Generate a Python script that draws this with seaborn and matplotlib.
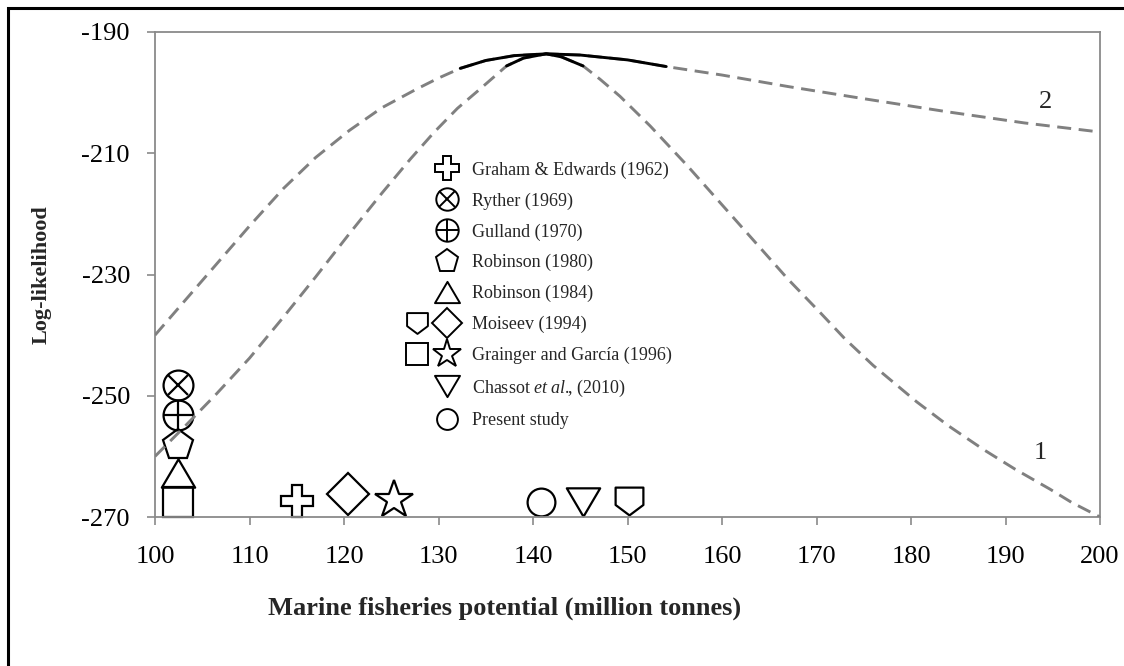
import matplotlib
matplotlib.use("Agg")
import matplotlib.pyplot as plt
from matplotlib.lines import Line2D
from matplotlib.legend_handler import HandlerTuple
from matplotlib.patches import Rectangle
from matplotlib.path import Path
import seaborn as sns

# profile 1 (narrow curve)
x1 = [100, 103, 106.5, 110, 113.5, 117, 120.5, 124, 127, 129.5, 132, 134.4, 137.2,
      139, 141.4, 143, 145.3, 147.1, 149.2, 152.4, 156.3, 160, 163.3, 167, 170.4, 173,
      176, 180.6, 184, 187.7, 191, 194.7, 197, 200]
ll1 = [-260, -255.3, -249.7, -243.8, -237.2, -230.4, -223.4, -216.6, -211.0, -206.6, -202.6,
       -199.4, -195.6, -194.3, -193.6, -194.1, -195.6, -197.8, -200.6, -205.5, -212, -218.5,
       -224.3, -230.8, -236.3, -240.6, -245.0, -251.0, -255.0, -258.9, -262.1, -265.4, -267.6, -270]

# profile 2 (wide curve)
x2 = [100, 103, 106.5, 110, 113.6, 117, 120.6, 124, 127.7, 130, 132.3, 135, 138, 141.4,
      145, 150, 154.1, 160, 167, 175, 184, 192, 200]
ll2 = [-240, -234.6, -228.3, -222.0, -215.8, -210.7, -206.2, -202.5, -199.4, -197.6, -196.0,
       -194.7, -193.9, -193.6, -193.8, -194.6, -195.7, -197.1, -199.0, -201.0, -203.2, -205.0, -206.5]

# confidence ranges drawn solid
ci1 = (137.2, 145.3)
ci2 = (132.3, 154.1)

studies = ["Graham & Edwards (1962)", "Ryther (1969)", "Gulland (1970)", "Robinson (1980)",
           "Robinson (1984)", "Moiseev (1994)", "Grainger and García (1996)",
           r"Chassot $\mathit{et\ al.}\!\!\mathrm{,}$ (2010)", "Present study"]

# estimates plotted on the chart (one study may have two symbols)
point_study = [0, 1, 2, 3, 4, 5, 5, 6, 6, 7, 8]
point_sym = ["cross", "otimes", "oplus", "pentagon", "triangle", "shield", "diamond",
             "square", "star", "tri_down", "circle"]
point_x = [115.0, 102.4, 102.4, 102.4, 102.4, 150.2, 120.4, 102.4, 125.3, 145.3, 140.8]
point_y = [-267.4, -248.2, -253.2, -258.1, -262.7, -267.4, -266.2, -267.5, -267.2, -267.6, -267.6]


def poly(pts):
    return Path(pts + [pts[0]], [Path.MOVETO] + [Path.LINETO] * (len(pts) - 1) + [Path.CLOSEPOLY])


shield = poly([(-1, 1), (1, 1), (1, -0.25), (0, -1), (-1, -0.25)])
tri_up = poly([(0, 0.85), (1, -0.85), (-1, -0.85)])
tri_dn = poly([(0, -0.85), (-1, 0.85), (1, 0.85)])

# symbol -> list of (marker, size) layers
SYM = {
    "cross": [("P", 23)],
    "otimes": [("o", 21.5), ("x", 14.5)],
    "oplus": [("o", 21.5), ("+", 21.5)],
    "pentagon": [("p", 23)],
    "triangle": [(tri_up, 24)],
    "shield": [(shield, 20)],
    "diamond": [("D", 21)],
    "square": [("s", 21)],
    "star": [("*", 29)],
    "tri_down": [(tri_dn, 24)],
    "circle": [("o", 20)],
}

sns.set_theme(style="white")
plt.rcParams["font.family"] = ["Liberation Serif", "DejaVu Serif"]
plt.rcParams["mathtext.fontset"] = "custom"
plt.rcParams["mathtext.it"] = "Liberation Serif:italic"
plt.rcParams["mathtext.rm"] = "Liberation Serif"
plt.rcParams["axes.unicode_minus"] = False

fig = plt.figure(figsize=(11.24, 6.66), dpi=100)
ax = fig.add_axes([155 / 1124, 1 - 517 / 666, 945 / 1124, 485 / 666])

grey = "#808080"
for xs, ys, ci in [(x1, ll1, ci1), (x2, ll2, ci2)]:
    sns.lineplot(x=xs, y=ys, ax=ax, color=grey, linewidth=2.1, linestyle=(0, (4.8, 2.6)),
                 estimator=None, sort=False, legend=False, zorder=3)
    cx = [a for a in xs if ci[0] <= a <= ci[1]]
    cy = [b for a, b in zip(xs, ys) if ci[0] <= a <= ci[1]]
    sns.lineplot(x=cx, y=cy, ax=ax, color="black", linewidth=2.1, estimator=None,
                 sort=False, legend=False, zorder=4)

for px, py, s in zip(point_x, point_y, point_sym):
    for m, ms in SYM[s]:
        ax.plot([px], [py], marker=m, ms=ms, mfc="none", mec="black", mew=1.6,
                ls="none", clip_on=False, zorder=2)

ax.text(194.2, -201.5, "2", fontsize=19, ha="center", va="center")
ax.text(193.7, -259.4, "1", fontsize=19, ha="center", va="center")

ax.set_xlim(100, 200)
ax.set_ylim(-270, -190)
ax.set_xticks(range(100, 201, 10))
ax.set_yticks(range(-270, -189, 20))
for sp in ax.spines.values():
    sp.set_color("#8a8a8a")
    sp.set_linewidth(1.3)
ax.tick_params(axis="both", direction="out", length=6, width=1.2, color="#8a8a8a",
               labelsize=19, labelcolor="black")
ax.tick_params(axis="x", pad=15, bottom=True)
ax.tick_params(axis="y", pad=12, left=True)

ax.set_xlabel("Marine fisheries potential (million tonnes)", fontsize=19, fontweight="bold")
ax.set_ylabel("Log-likelihood", fontsize=16, fontweight="bold")
ax.xaxis.set_label_coords(0.370, -0.165)
ax.yaxis.set_label_coords(-0.109, 0.5)


# legend: left slot holds the second symbol of a study, right slot the main one
class Overlay(tuple):
    pass


blank = Line2D([], [], ls="none")
scale = 0.75


def handle(s):
    parts = [Line2D([], [], marker=m, ms=ms * scale, mfc="none", mec="black", mew=1.4, ls="none")
             for m, ms in SYM[s]]
    return parts[0] if len(parts) == 1 else Overlay(parts)


handles = []
for i, name in enumerate(studies):
    syms = [point_sym[k] for k in range(len(point_sym)) if point_study[k] == i]
    if len(syms) == 1:
        handles.append((blank, handle(syms[0])))
    else:
        handles.append((handle(syms[0]), handle(syms[1])))

ax.legend(handles, studies, loc="upper left", bbox_to_anchor=(0.2445, 0.7665), frameon=False,
          fontsize=13, handlelength=3.3, handletextpad=0.55, labelspacing=0.75,
          handler_map={Overlay: HandlerTuple(ndivide=1),
                       tuple: HandlerTuple(ndivide=None, pad=0)}, borderpad=0.4)

fig.patches.append(Rectangle((8 / 1124, -0.5), 2, 1.5 - 8 / 666, transform=fig.transFigure,
                             fill=False, ec="black", lw=2.2))

fig.savefig("out.png", dpi=100)
